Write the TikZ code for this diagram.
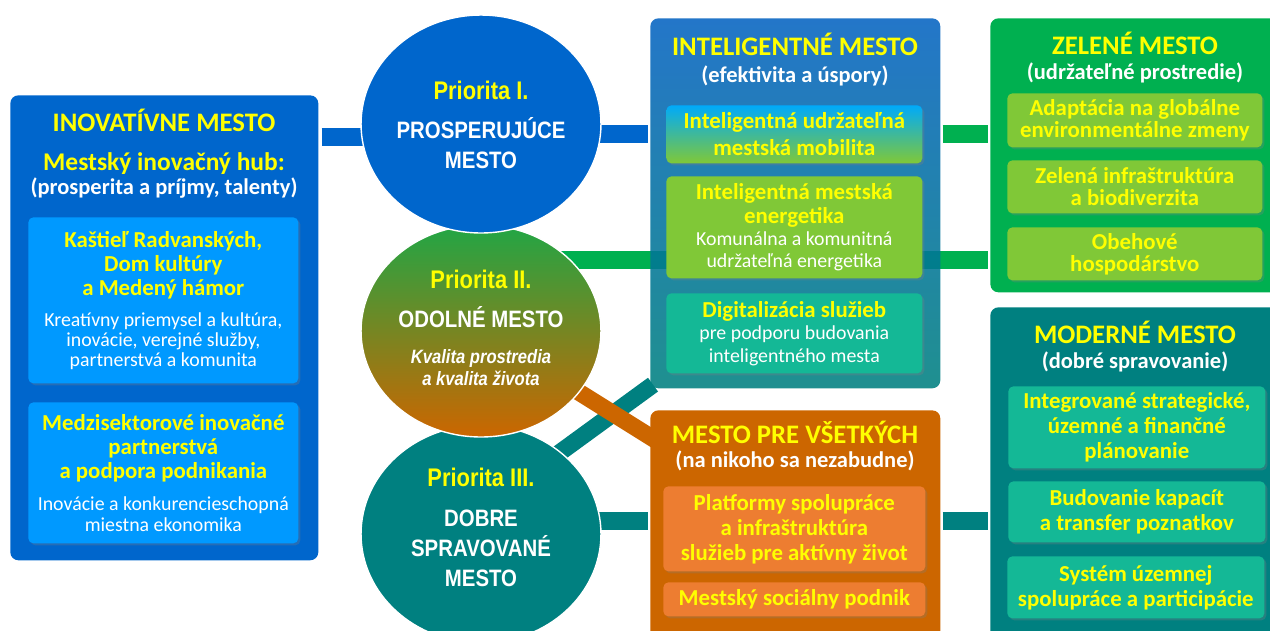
\documentclass[tikz,border=0pt]{standalone}
\usepackage{fontspec}
\setmainfont{Carlito}
\newfontfamily\narrowfont[FakeStretch=0.86, BoldFont={Liberation Sans Bold},
  BoldItalicFont={Liberation Sans Bold Italic}]{Liberation Sans}
\usetikzlibrary{shapes.geometric,shadows,backgrounds}

\definecolor{inovblue}{RGB}{0,102,204}
\definecolor{skyblue}{RGB}{0,153,255}
\definecolor{titleyellow}{RGB}{255,255,0}
\definecolor{tealdark}{RGB}{0,128,128}
\definecolor{tealbox}{RGB}{20,184,150}
\definecolor{limebox}{RGB}{128,200,55}
\definecolor{zelgreen}{RGB}{0,176,80}
\definecolor{prioorange}{RGB}{204,102,0}
\definecolor{orangebox}{RGB}{237,125,49}
\definecolor{circgreen}{RGB}{33,166,69}
\definecolor{intelblue}{RGB}{5,99,193}
\definecolor{intelmid}{RGB}{45,160,185}
\definecolor{aqua}{RGB}{0,170,250}
\definecolor{aquamid}{RGB}{60,190,150}

\newcommand{\yline}[1]{{\color{titleyellow}\fontsize{13}{13.7}\selectfont\bfseries #1}}
\newcommand{\wline}[1]{{\fontsize{11.3}{13.7}\selectfont #1}}
\newcommand{\prioline}[1]{{\color{titleyellow}\fontsize{14.5}{17}\selectfont #1}}
\newcommand{\qualline}[1]{{\fontsize{11}{17}\selectfont\itshape #1}}

\tikzset{
  panel/.style={rounded corners=0.16cm, anchor=north west, inner sep=0pt},
  subbox/.style={rounded corners=0.1cm, anchor=north west, align=center,
    inner sep=0pt, text=white, font=\fontsize{11.3}{13.7}\selectfont,
    drop shadow={shadow xshift=0.04cm, shadow yshift=-0.04cm, opacity=0.3}},
  ptitle/.style={anchor=base, inner sep=0pt, text=titleyellow,
    font=\fontsize{15.2}{16}\selectfont\bfseries},
  phub/.style={ptitle, font=\fontsize{14.5}{16}\selectfont\bfseries},
  psub/.style={anchor=base, inner sep=0pt, text=white,
    font=\fontsize{12.8}{15}\selectfont\bfseries},
  prio/.style={ellipse, draw=white, line width=0.8pt, minimum width=4.8cm,
    minimum height=4.36cm, inner sep=0pt},
  priotext/.style={align=center, text=white, inner sep=0pt,
    font=\narrowfont\bfseries\fontsize{13.5}{17}\selectfont},
  link/.style={line width=9.7pt}
}

\begin{document}
\begin{tikzpicture}[x=0.02cm, y=-0.02cm]
  \useasboundingbox (0,0) rectangle (1270,630);
  \clip (0,0) rectangle (1270,630);
  % rows of the connectors
  \coordinate (rowA) at (0,137);
  \coordinate (rowB) at (0,134);
  \coordinate (rowC) at (0,260);
  \coordinate (rowD) at (0,521);

  % INOVATIVNE MESTO
  \node[panel, fill=inovblue, minimum width=6.16cm, minimum height=9.3cm] (inov) at (10,95) {};
  \node[ptitle] (inovT) at (164,131) {INOVATÍVNE MESTO};
  \node[phub] (inovH) at (164,170) {Mestský inovačný hub:};
  \node[psub] (inovS) at (164,194) {(prosperita a príjmy, talenty)};
  \node[subbox, fill=skyblue, minimum width=5.4cm, minimum height=3.32cm] (kastiel) at (28,217)
    {\yline{Kaštieľ Radvanských,}\\ \yline{Dom kultúry}\\ \yline{a Medený hámor}\\[3.9pt]
     \wline{Kreatívny priemysel a kultúra,}\\[-2.3pt] \wline{inovácie, verejné služby,}\\[-2.3pt]
     \wline{partnerstvá a komunita}};
  \node[subbox, fill=skyblue, minimum width=5.4cm, minimum height=2.82cm] (partner) at (28,402)
    {\yline{Medzisektorové inovačné}\\ \yline{partnerstvá}\\ \yline{a podpora podnikania}\\[4.5pt]
     \wline{Inovácie a konkurencieschopná}\\[-1.7pt] \wline{miestna ekonomika}};

  % INTELIGENTNE MESTO
  \node[panel, top color=intelblue, middle color=intelmid, bottom color=tealdark,
        fill opacity=0.88, minimum width=5.8cm, minimum height=7.4cm] (intel) at (650,18) {};
  \node[ptitle] (intelT) at (795,55) {INTELIGENTNÉ MESTO};
  \node[psub] (intelS) at (795,82) {(efektivita a úspory)};
  \node[subbox, top color=aqua, middle color=aquamid, bottom color=limebox,
        minimum width=5.12cm, minimum height=1.16cm] (mobil) at (666,105)
    {\yline{Inteligentná udržateľná}\\[1.7pt] \yline{mestská mobilita}};
  \node[subbox, fill=limebox, minimum width=5.12cm, minimum height=2.04cm] (energ) at (666,176)
    {\yline{Inteligentná mestská}\\ \yline{energetika}\\[-1.2pt]
     \wline{Komunálna a komunitná}\\[-1.2pt] \wline{udržateľná energetika}};
  \node[subbox, fill=tealbox, minimum width=5.12cm, minimum height=1.6cm] (digit) at (666,293)
    {\yline{Digitalizácia služieb}\\[-1.2pt] \wline{pre podporu budovania}\\[-0.6pt]
     \wline{inteligentného mesta}};

  % MESTO PRE VSETKYCH
  \node[panel, fill=prioorange, minimum width=5.8cm, minimum height=4.8cm] (mesto) at (650,410) {};
  \node[ptitle] (mestoT) at (795,443) {MESTO PRE VŠETKÝCH};
  \node[psub] (mestoS) at (795,467) {(na nikoho sa nezabudne)};
  \node[subbox, fill=orangebox, minimum width=5.24cm, minimum height=1.7cm] (platf) at (663,486)
    {\yline{Platformy spolupráce}\\[0.5pt] \yline{a infraštruktúra}\\[0.5pt]
     \yline{služieb pre aktívny život}};
  \node[subbox, fill=orangebox, minimum width=5.24cm, minimum height=0.68cm] (podnik) at (663,582)
    {\yline{Mestský sociálny podnik}};

  % ZELENE MESTO
  \node[panel, fill=zelgreen, minimum width=6cm, minimum height=5.48cm] (zelene) at (990,18) {};
  \node[ptitle] (zeleneT) at (1135,54) {ZELENÉ MESTO};
  \node[psub] (zeleneS) at (1135,79) {(udržateľné prostredie)};
  \node[subbox, fill=limebox, minimum width=5.1cm, minimum height=1.08cm] (adapt) at (1007,93)
    {\yline{Adaptácia na globálne}\\[-1.2pt] \yline{environmentálne zmeny}};
  \node[subbox, fill=limebox, minimum width=5.1cm, minimum height=1.06cm] (infra) at (1007,160)
    {\yline{Zelená infraštruktúra}\\[-1.2pt] \yline{a biodiverzita}};
  \node[subbox, fill=limebox, minimum width=5.1cm, minimum height=1.06cm] (obeh) at (1007,227)
    {\yline{Obehové}\\[-1.2pt] \yline{hospodárstvo}};

  % MODERNE MESTO
  \node[panel, fill=tealdark, minimum width=6cm, minimum height=6.8cm] (modern) at (990,307) {};
  \node[ptitle] (modernT) at (1135,343) {MODERNÉ MESTO};
  \node[psub] (modernS) at (1135,368) {(dobré spravovanie)};
  \node[subbox, fill=tealbox, minimum width=5.14cm, minimum height=1.64cm] (plan) at (1008,386)
    {\yline{Integrované strategické,}\\[0.5pt] \yline{územné a finančné}\\[0.5pt]
     \yline{plánovanie}};
  \node[subbox, fill=tealbox, minimum width=5.14cm, minimum height=1.22cm] (kapac) at (1008,481)
    {\yline{Budovanie kapacít}\\[0.5pt] \yline{a transfer poznatkov}};
  \node[subbox, fill=tealbox, minimum width=5.14cm, minimum height=1.24cm] (system) at (1007,556)
    {\yline{Systém územnej}\\[0.5pt] \yline{spolupráce a participácie}};

  % priorities
  \node[prio, fill=tealdark] (prio3) at (481,534) {};
  \node[prio, top color=circgreen, bottom color=prioorange, minimum height=4.24cm] (prio2) at (481,331) {};
  \node[prio, fill=inovblue] (prio1) at (481,124) {};
  \node[priotext] (prio1T) at (481,125)
    {\prioline{Priorita I.}\\[5pt] PROSPERUJÚCE\\ MESTO};
  \node[priotext] (prio2T) at (481,328)
    {\prioline{Priorita II.}\\[5pt] ODOLNÉ MESTO\\[3.5pt] \qualline{Kvalita prostredia}\\[-4pt]
     \qualline{a kvalita života}};
  \node[priotext] (prio3T) at (481,527)
    {\prioline{Priorita III.}\\[5.8pt] DOBRE\\ SPRAVOVANÉ\\ MESTO};

  % connectors
  \begin{scope}[on background layer]
    \draw[link, inovblue, shorten <=0.06cm] (inov.east |- rowA) -- (prio1.center |- rowA);
    \draw[link, inovblue, shorten >=0.04cm] (prio1.center |- rowB) -- (intel.west |- rowB);
    \draw[link, zelgreen, shorten <=0.04cm, shorten >=0.04cm] (intel.east |- rowB) -- (zelene.west |- rowB);
    \draw[link, zelgreen, shorten >=0.04cm] (prio2.center |- rowC) -- (zelene.west |- rowC);
    \draw[link, tealdark, shorten >=0.04cm] (prio3.center |- rowD) -- (mesto.west |- rowD);
    \draw[link, tealdark, shorten <=0.04cm, shorten >=0.04cm] (mesto.east |- rowD) -- (modern.west |- rowD);
    \draw[link, tealdark] ([yshift=0.48cm]prio3.center) -- ([xshift=0.06cm, yshift=0.08cm]intel.south west);
    \draw[link, prioorange] (prio2.center) -- ([xshift=0.3cm, yshift=-0.72cm]mesto.north west);
  \end{scope}
\end{tikzpicture}
\end{document}
